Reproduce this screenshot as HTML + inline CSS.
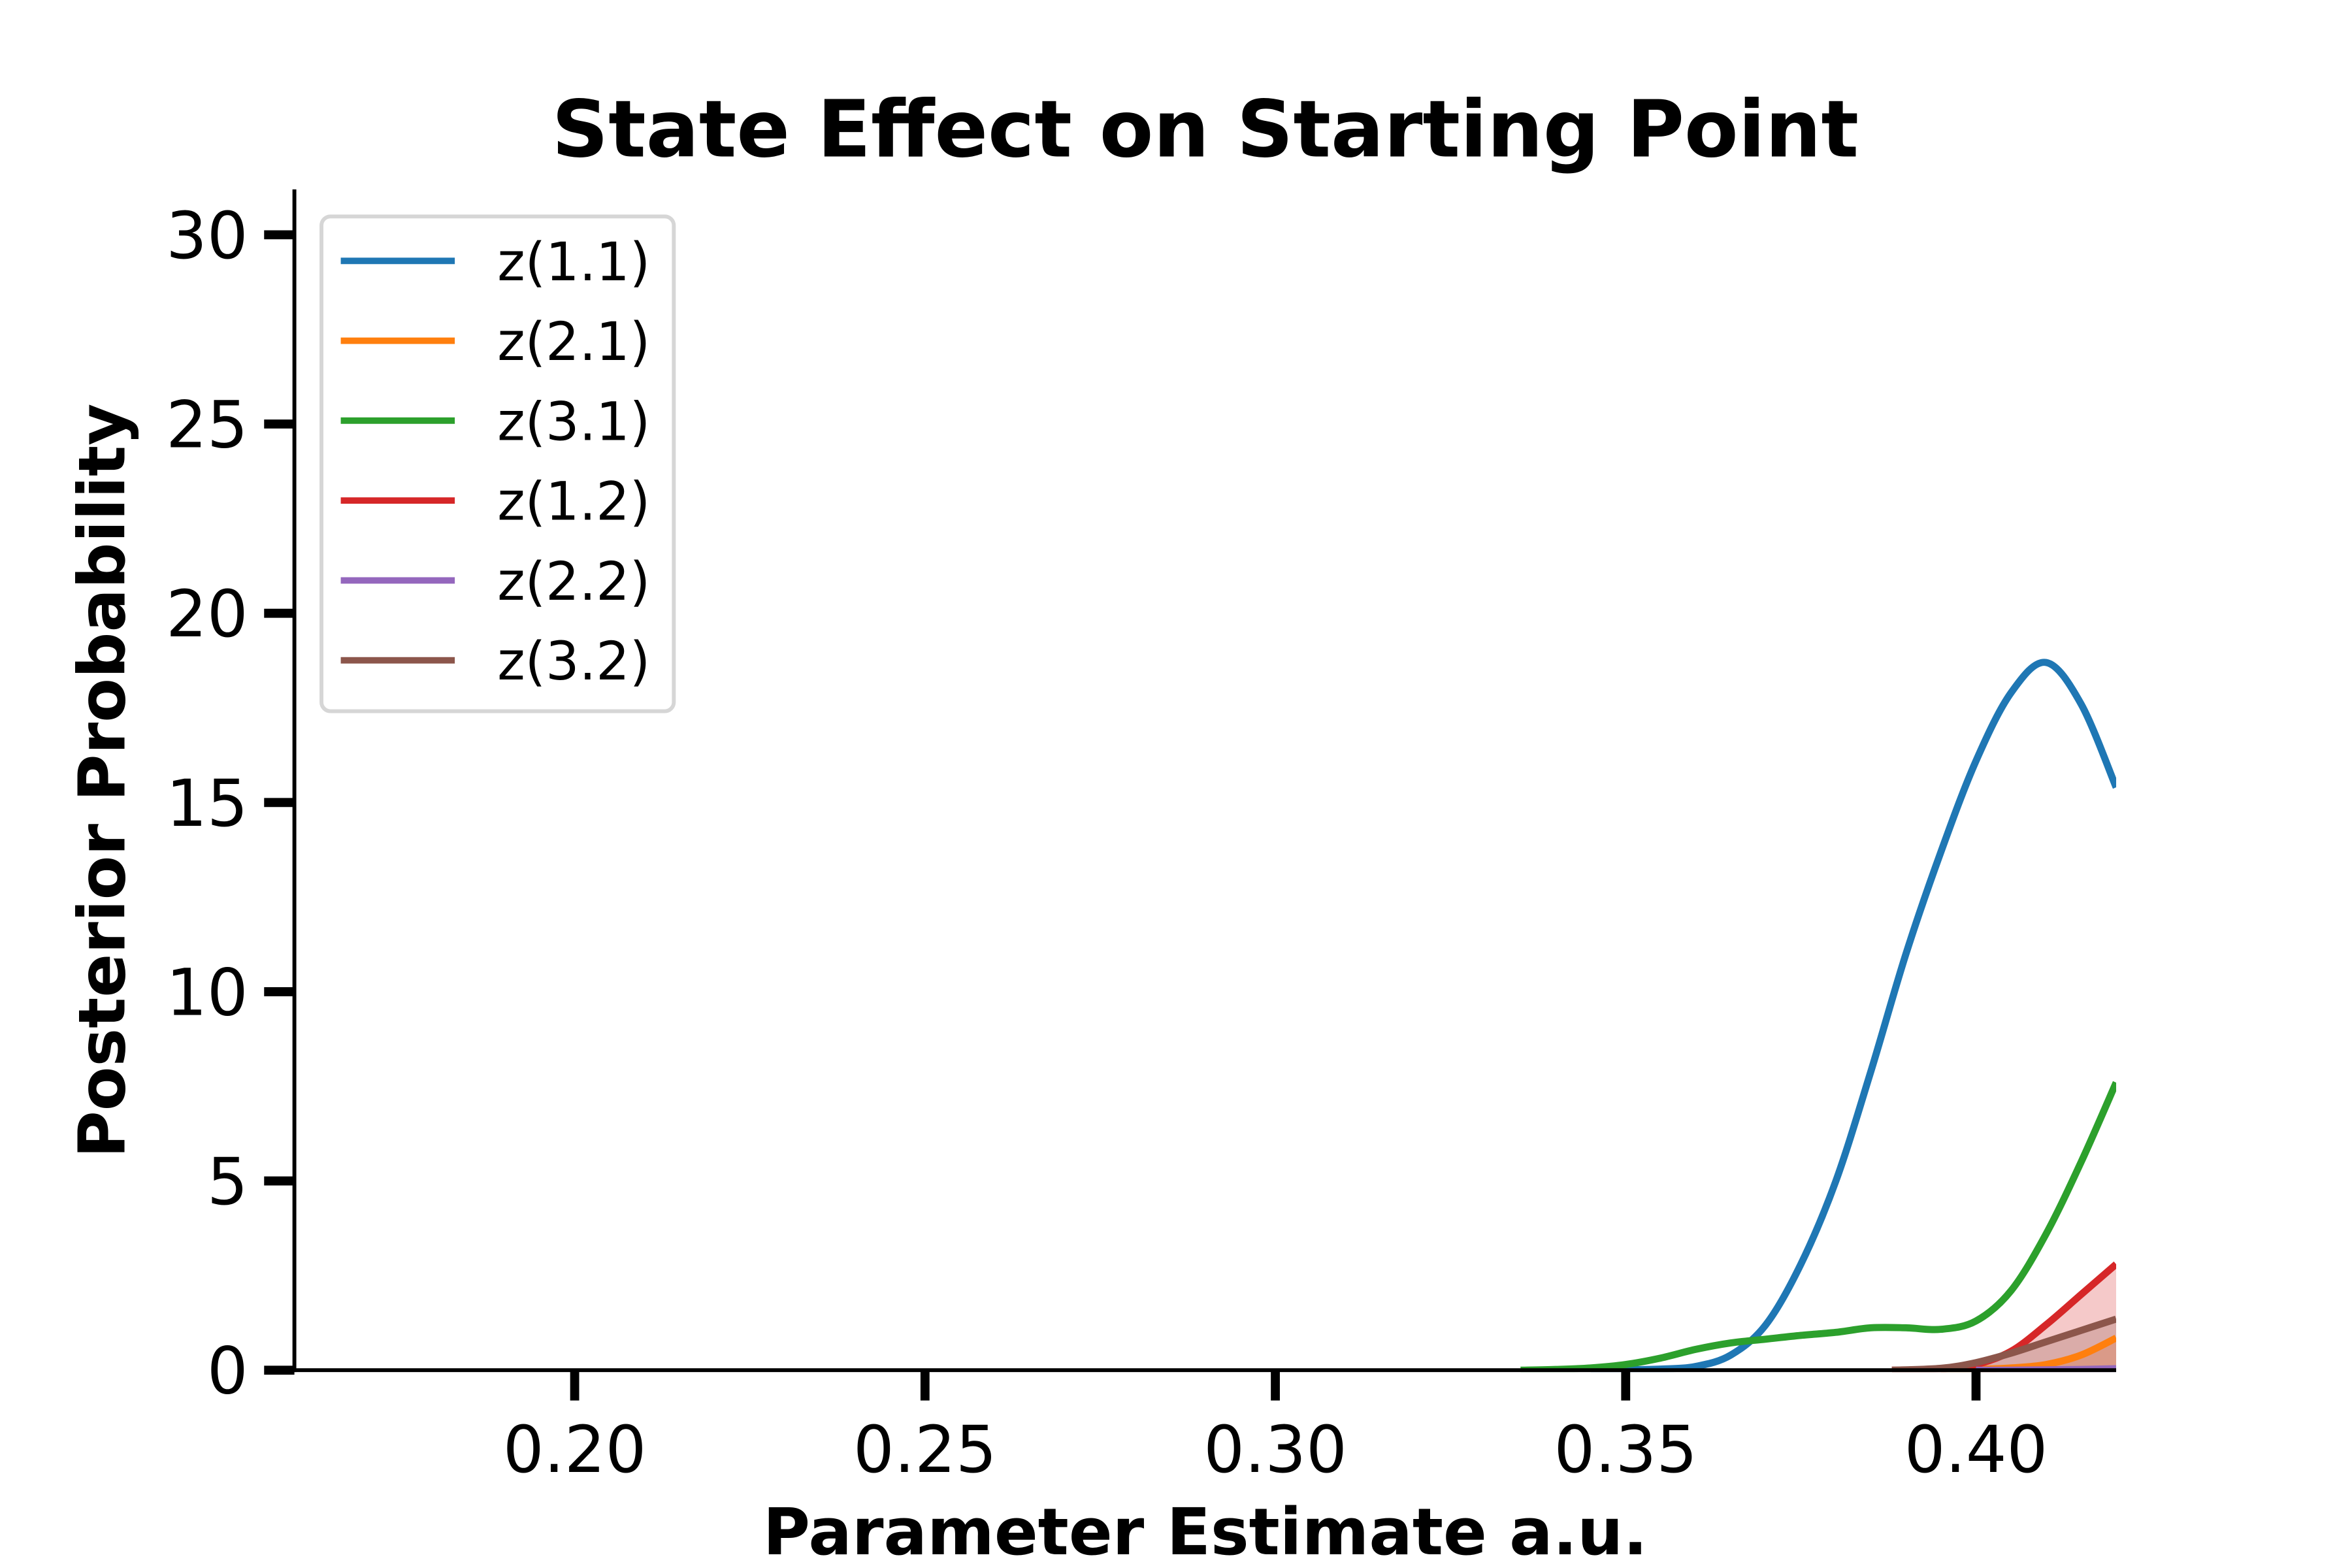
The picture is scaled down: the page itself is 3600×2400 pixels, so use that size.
<!DOCTYPE html>
<html><head><meta charset="utf-8">
<style>
html,body{margin:0;padding:0;background:#fff;}
svg{display:block;font-family:"DejaVu Sans","Liberation Sans",sans-serif;}
</style></head>
<body>
<svg id="chart" width="3600" height="2400" viewBox="0 0 3600 2400" xmlns="http://www.w3.org/2000/svg">
<rect width="3600" height="2400" fill="#fff"/>
<g transform="scale(0.986)">
<text x="1871" y="243" text-anchor="middle" font-size="122" font-weight="bold">State Effect on Starting Point</text>
<defs><clipPath id="plotclip"><rect x="457" y="294" width="2828" height="1836"/></clipPath></defs>
<g id="fills" clip-path="url(#plotclip)"></g>
<g id="lines" clip-path="url(#plotclip)"></g>
<g id="axes"></g>
<text x="1871" y="2418" text-anchor="middle" font-size="100" font-weight="bold" dy="-5">Parameter Estimate a.u.</text>
<text transform="translate(193,1212) rotate(-90)" text-anchor="middle" font-size="100" font-weight="bold">Posterior Probability</text>
<g id="legend"></g>
</g>
</svg>
<script>
const seriesNames = ["z(1.1)","z(2.1)","z(3.1)","z(1.2)","z(2.2)","z(3.2)"];
const seriesColors = ["#1f77b4","#ff7f0e","#2ca02c","#d62728","#9467bd","#8c564b"];
const xTicks = [0.20,0.25,0.30,0.35,0.40];
const xTickLabels = ["0.20","0.25","0.30","0.35","0.40"];
const yTicks = [0,5,10,15,20,25,30];
const yTickLabels = ["0","5","10","15","20","25","30"];
const blueX = [0.345,0.35,0.355,0.36,0.365,0.37,0.375,0.38,0.385,0.39,0.395,0.40,0.405,0.41,0.415,0.42];
const blueY = [0,0.01,0.03,0.1,0.4,1.2,2.8,5.0,7.9,11.0,13.7,16.1,17.9,18.7,17.6,15.4];
const orangeX = [0.395,0.40,0.405,0.41,0.415,0.42];
const orangeY = [0,0.02,0.06,0.15,0.4,0.85];
const greenX = [0.335,0.34,0.345,0.35,0.355,0.36,0.365,0.37,0.375,0.38,0.385,0.39,0.395,0.40,0.405,0.41,0.415,0.42];
const greenY = [0,0.02,0.06,0.15,0.32,0.55,0.72,0.82,0.92,1.0,1.12,1.12,1.08,1.3,2.1,3.6,5.5,7.6];
const redX = [0.388,0.395,0.40,0.405,0.41,0.415,0.42];
const redY = [0,0.03,0.15,0.5,1.2,2.0,2.8];
const purpleX = [0.40,0.405,0.41,0.415,0.42];
const purpleY = [0,0,0.01,0.02,0.04];
const brownX = [0.388,0.395,0.40,0.405,0.41,0.415,0.42];
const brownY = [0,0.05,0.2,0.45,0.75,1.05,1.35];
const allX = [blueX,orangeX,greenX,redX,purpleX,brownX];
const allY = [blueY,orangeY,greenY,redY,purpleY,brownY];
const filled = [false,true,false,true,true,true];

const NS="http://www.w3.org/2000/svg";
const X0=457,X1=3285,Y0=2127,Y1=294,xmin=0.16,xmax=0.42,ymin=0,ymax=31.2;
function sx(v){return X0+(v-xmin)/(xmax-xmin)*(X1-X0);}
function sy(v){return Y0-(v-ymin)/(ymax-ymin)*(Y0-Y1);}
function mk(tag,attrs,parent){const e=document.createElementNS(NS,tag);for(const k in attrs)e.setAttribute(k,attrs[k]);parent.appendChild(e);return e;}
function smoothPath(xs,ys){
  const p=xs.map((x,i)=>[sx(x),sy(ys[i])]);
  let d="M"+p[0][0]+","+p[0][1];
  for(let i=0;i<p.length-1;i++){
    const a=p[Math.max(0,i-1)],b=p[i],c=p[i+1],e=p[Math.min(p.length-1,i+2)];
    const c1=[b[0]+(c[0]-a[0])/6,b[1]+(c[1]-a[1])/6];
    const c2=[c[0]-(e[0]-b[0])/6,c[1]-(e[1]-b[1])/6];
    d+=" C"+c1[0]+","+c1[1]+" "+c2[0]+","+c2[1]+" "+c[0]+","+c[1];
  }
  return d;
}
const fills=document.getElementById("fills"),lines=document.getElementById("lines");
for(let s=0;s<allX.length;s++){
  const xs=allX[s],ys=allY[s],d=smoothPath(xs,ys);
  if(filled[s]){
    const f=mk("path",{d:d+" L"+sx(xs[xs.length-1])+","+sy(0)+" L"+sx(xs[0])+","+sy(0)+" Z",fill:seriesColors[s],"fill-opacity":"0.25",stroke:"none"},fills);
    
    
  }
  const l=mk("path",{d:d,fill:"none",stroke:seriesColors[s],"stroke-width":"11"},lines);
  
  
}
const axes=document.getElementById("axes");
const ls=mk("line",{x1:X0,y1:Y1,x2:X0,y2:Y0+3,stroke:"#000","stroke-width":"6"},axes);


const bs=mk("line",{x1:X0-3,y1:Y0,x2:X1,y2:Y0,stroke:"#000","stroke-width":"6"},axes);


xTicks.forEach((v,i)=>{
  const t=mk("line",{x1:sx(v),y1:Y0,x2:sx(v),y2:Y0+47,stroke:"#000","stroke-width":"14"},axes);
  
  
  const tx=mk("text",{x:sx(v),y:Y0+158,"text-anchor":"middle","font-size":"100"},axes);
  tx.textContent=xTickLabels[i];
  
  
});
yTicks.forEach((v,i)=>{
  const t=mk("line",{x1:X0-47,y1:sy(v),x2:X0,y2:sy(v),stroke:"#000","stroke-width":"14"},axes);
  
  
  const tx=mk("text",{x:X0-72,y:sy(v)+36,"text-anchor":"end","font-size":"100"},axes);
  tx.textContent=yTickLabels[i];
  
  
});
const lg=document.getElementById("legend");
const box=mk("rect",{x:499,y:336,width:547,height:768,rx:14,fill:"#fff","fill-opacity":"0.8",stroke:"#d6d6d6","stroke-width":"6"},lg);


seriesNames.forEach((n,i)=>{
  const y=405+i*124;
  const g=mk("g",{},lg);
  
  
  mk("line",{x1:529,y1:y,x2:706,y2:y,stroke:seriesColors[i],"stroke-width":"10"},g);
  const t=mk("text",{x:772,y:y+30,"font-size":"82"},g);
  t.textContent=n;
});
</script>
</body></html>
